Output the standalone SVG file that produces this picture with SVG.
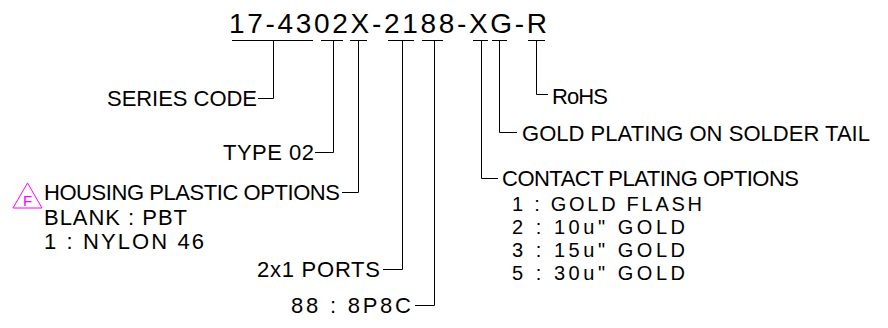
<svg xmlns="http://www.w3.org/2000/svg" width="888" height="328" viewBox="0 0 888 328">
<style>
text{font-family:"Liberation Sans",Arial,sans-serif;fill:#000;}
.t{font-size:22px;}
.s{font-size:20px;}
.title{font-size:28px;}
.ln{fill:none;stroke:#000;stroke-width:1;}
.mg{fill:none;stroke:#ff00ff;stroke-width:1;}
</style>
<rect width="888" height="328" fill="#fff"/>
<g id="part-number">
<text class="title" x="229" y="33" textLength="318" lengthAdjust="spacing">17-4302X-2188-XG-R</text>
</g>
<g id="connectors" class="ln">
<path d="M232 40.5H313M321 40.5H343M350 40.5H367M388 40.5H414M422 40.5H443M473 40.5H488M492 40.5H507M528 40.5H545"/>
<path d="M273.5 40.5V98.5H258"/>
<path d="M333.5 40.5V152.5H315"/>
<path d="M358.5 40.5V192.5H342"/>
<path d="M402.5 40.5V269.5H383"/>
<path d="M434.5 40.5V305.5H415"/>
<path d="M481.5 40.5V178.5H498"/>
<path d="M499.5 40.5V132.5H517"/>
<path d="M536.5 40.5V94.5H548"/>
</g>
<g id="series-code"><text class="t" x="107" y="106" textLength="150" lengthAdjust="spacing">SERIES CODE</text></g>
<g id="type"><text class="t" x="223" y="160" textLength="91" lengthAdjust="spacing">TYPE 02</text></g>
<g id="housing">
<polygon class="mg" points="13,208 42,208 27.5,183"/>
<text x="23" y="206" font-size="15" style="fill:#ff00ff">F</text>
<text class="t" x="44" y="200" textLength="296" lengthAdjust="spacing">HOUSING PLASTIC OPTIONS</text>
<text class="t" x="44" y="225" textLength="143" lengthAdjust="spacing">BLANK : PBT</text>
<text class="t" x="44" y="249" textLength="160" lengthAdjust="spacing">1 : NYLON 46</text>
</g>
<g id="ports"><text class="t" x="257" y="277" textLength="123" lengthAdjust="spacing">2x1 PORTS</text></g>
<g id="contacts"><text class="t" x="291" y="313" textLength="120" lengthAdjust="spacing">88 : 8P8C</text></g>
<g id="rohs"><text class="t" x="552" y="104" textLength="56" lengthAdjust="spacing">RoHS</text></g>
<g id="tail-plating"><text class="t" x="522" y="141" textLength="348" lengthAdjust="spacing">GOLD PLATING ON SOLDER TAIL</text></g>
<g id="contact-plating">
<text class="t" x="502" y="186" textLength="297" lengthAdjust="spacing">CONTACT PLATING OPTIONS</text>
<text class="s" x="512" y="211" textLength="190" lengthAdjust="spacing">1 : GOLD FLASH</text>
<text class="s" x="512" y="234" textLength="173" lengthAdjust="spacing">2 : 10u" GOLD</text>
<text class="s" x="512" y="257" textLength="173" lengthAdjust="spacing">3 : 15u" GOLD</text>
<text class="s" x="512" y="280" textLength="173" lengthAdjust="spacing">5 : 30u" GOLD</text>
</g>
</svg>
